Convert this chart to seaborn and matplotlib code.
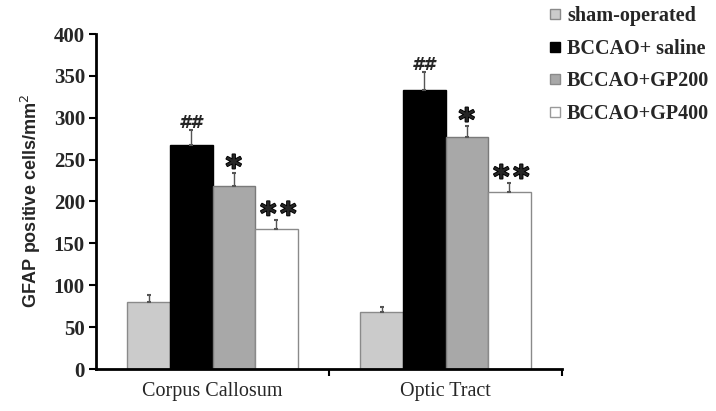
import numpy as np
import pandas as pd
import matplotlib
matplotlib.use("Agg")
import matplotlib.pyplot as plt
from matplotlib.lines import Line2D
from matplotlib.container import BarContainer
import matplotlib.patheffects as pe
import seaborn as sns

regions = ["Corpus Callosum", "Optic Tract"]
groups = ["sham-operated", "BCCAO+ saline", "BCCAO+GP200", "BCCAO+GP400"]
cc_means = [80, 267, 219, 167]
ot_means = [68, 333, 277, 211]
cc_err = [8, 18, 15, 11]
ot_err = [6, 22, 13, 11]
cc_marks = ["", "##", "*", "**"]
ot_marks = ["", "##", "*", "**"]
yticks = [0, 50, 100, 150, 200, 250, 300, 350, 400]

colors = ["#cbcbcb", "#000000", "#a8a8a8", "#ffffff"]
edges = ["#8a8a8a", "#000000", "#7a7a7a", "#8a8a8a"]

sns.set_theme(style="white")
plt.rcParams["font.family"] = ["Liberation Serif", "DejaVu Serif"]

df = pd.DataFrame({
    "region": [r for r in regions for _ in groups],
    "group": groups * 2,
    "value": cc_means + ot_means,
    "err": cc_err + ot_err,
    "mark": cc_marks + ot_marks,
})

fig = plt.figure(figsize=(7.16, 4.11), dpi=100)
ax = fig.add_axes([96/716, 1 - 369/411, (562 - 96)/716, (369 - 34)/411])

sns.barplot(data=df, x="region", y="value", hue="group", order=regions,
            hue_order=groups, palette=colors, width=0.73, gap=0,
            errorbar=None, legend=False, ax=ax, linewidth=1.0)

star_kw = dict(textcoords="offset pixels", ha="center", va="baseline", fontsize=22,
               fontweight="bold", family="DejaVu Sans",
               path_effects=[pe.withStroke(linewidth=1.3, foreground="black")])

bar_conts = [c for c in ax.containers if isinstance(c, BarContainer)]
for gi, cont in enumerate(bar_conts):
    for ri, patch in enumerate(cont.patches):
        patch.set_edgecolor(edges[gi])
        row = df[(df.group == groups[gi]) & (df.region == regions[ri])].iloc[0]
        xc = patch.get_x() + patch.get_width() / 2
        h = patch.get_height()
        ax.errorbar([xc], [h], yerr=[[0], [row.err]], fmt="none",
                    ecolor="#555555", elinewidth=1.0, capsize=1.2, capthick=1.5)
        top = h + row.err
        if row.mark == "##":
            ax.annotate("##", (xc, top), xytext=(0, 2), textcoords="offset pixels",
                        ha="center", va="baseline", fontsize=12.5,
                        fontstyle="oblique", fontweight="bold", family="DejaVu Sans")
        elif row.mark == "*":
            ax.annotate("*", (xc, top), xytext=(0, -4), **star_kw)
        elif row.mark == "**":
            for dx in (-8, 12):
                ax.annotate("*", (xc, top), xytext=(dx, -4), **star_kw)

ax.set_xlim(-0.5, 1.5)
ax.set_ylim(0, 400)
ax.set_yticks(yticks)
ax.set_yticklabels([str(t) for t in yticks], fontsize=15, fontweight="bold")
ax.set_xticks([0, 1])
ax.set_xticklabels(regions, fontsize=14.5)
ax.set_xticks([0.5, 1.5], minor=True)
ax.tick_params(axis="x", which="major", length=0, pad=9)
ax.tick_params(axis="x", which="minor", length=5, width=1.5, color="black", direction="out", bottom=True)
ax.tick_params(axis="y", which="major", length=5, width=1.5, color="black", direction="out", left=True, pad=3)
ax.set_xlabel("")
ax.set_ylabel("GFAP positive cells/mm$^2$", fontsize=13, fontweight="bold",
              family=["Liberation Sans", "DejaVu Sans"], labelpad=8)

for s in ["top", "right"]:
    ax.spines[s].set_visible(False)
for s in ["left", "bottom"]:
    ax.spines[s].set_color("black")
    ax.spines[s].set_linewidth(2)

handles = [Line2D([], [], marker="s", linestyle="none", markersize=7,
                  markerfacecolor=c, markeredgecolor=e, markeredgewidth=1)
           for c, e in zip(colors, ["#8a8a8a", "#000000", "#8a8a8a", "#9a9a9a"])]
fig.legend(handles, groups, loc="upper left", bbox_to_anchor=(546/716, 0.99),
           frameon=False, prop={"family": "Liberation Serif", "weight": "bold", "size": 14.5},
           handlelength=0.7, handletextpad=0.25, labelspacing=0.62, borderaxespad=0.0, borderpad=0.1)

fig.savefig("out.png", dpi=100)
